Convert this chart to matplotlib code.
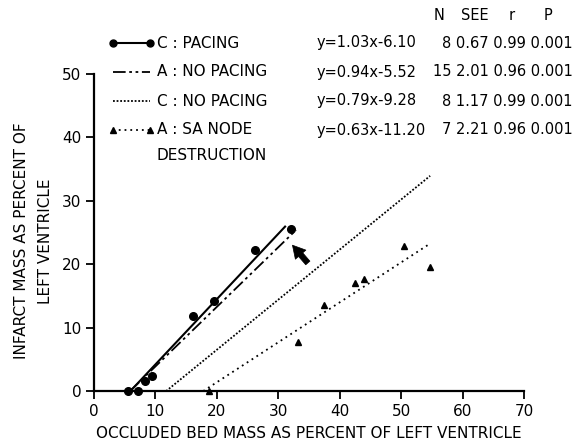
import matplotlib
matplotlib.use("Agg")
import matplotlib.pyplot as plt
from matplotlib.lines import Line2D
import numpy as np

plt.rcParams['font.family'] = ['DejaVu Sans']

# scatter data
pacing_x = [5.6, 7.2, 8.3, 9.4, 16.2, 19.6, 26.2, 32.0]
pacing_y = [0.0, 0.0, 1.6, 2.4, 11.8, 14.2, 22.2, 25.5]
sa_x = [18.8, 33.2, 37.5, 42.5, 43.9, 50.5, 54.6]
sa_y = [0.0, 7.7, 13.6, 17.0, 17.6, 22.8, 19.5]

# regression lines
labels = ["C : PACING", "A : NO PACING", "C : NO PACING", "A : SA NODE\nDESTRUCTION"]
slopes = [1.03, 0.94, 0.79, 0.63]
intercepts = [-6.10, -5.52, -9.28, -11.20]
x_ends = [31.1, 32.9, 54.7, 54.8]
equations = ["y=1.03x-6.10", "y=0.94x-5.52", "y=0.79x-9.28", "y=0.63x-11.20"]
stats = ["8 0.67 0.99 0.001", "15 2.01 0.96 0.001", "8 1.17 0.99 0.001", "7 2.21 0.96 0.001"]
stat_headers = ["N", "SEE", "r", "P"]

styles = [
    dict(ls='-', lw=1.5),
    dict(ls=(0, (7, 2, 1.5, 2, 1.5, 2)), lw=1.3),
    dict(ls=(0, (1, 1)), lw=1.3),
    dict(ls=(0, (1, 2.2)), lw=1.3),
]

fig = plt.figure(figsize=(5.87, 4.48), dpi=100)
ax = fig.add_axes([0.160, 0.127, 0.733, 0.708])

for m, b, xe, st in zip(slopes, intercepts, x_ends, styles):
    x0 = -b / m
    xs = np.array([x0, xe])
    ax.plot(xs, m * xs + b, color='black', **st)

ax.plot(pacing_x, pacing_y, 'o', color='black', ms=5.5, clip_on=False)
ax.plot(sa_x, sa_y, '^', color='black', ms=4.5, clip_on=False)

# filled arrow pointing at the last pacing point
ax.annotate('', xy=(32.3, 23.0), xytext=(34.8, 20.2),
            arrowprops=dict(arrowstyle='simple,head_length=0.9,head_width=1.0,tail_width=0.4',
                            fc='black', ec='black', lw=0.5, shrinkA=0, shrinkB=0,
                            mutation_scale=10))

ax.set_xlim(0, 70)
ax.set_ylim(0, 50)
ax.set_xticks(range(0, 71, 10))
ax.set_yticks(range(0, 51, 10))
ax.spines['top'].set_visible(False)
ax.spines['right'].set_visible(False)
for s in ('left', 'bottom'):
    ax.spines[s].set_linewidth(1.6)
ax.tick_params(direction='out', length=6, width=1.3, labelsize=11, pad=3)
ax.set_xlabel("OCCLUDED BED MASS AS PERCENT OF LEFT VENTRICLE", fontsize=11, labelpad=5)

W, H = 587, 448
fig.text(22 / W, 1 - 241 / H, "INFARCT MASS AS PERCENT OF", rotation=90,
         fontsize=11, ha='center', va='center')
fig.text(45 / W, 1 - 241 / H, "LEFT VENTRICLE", rotation=90,
         fontsize=11, ha='center', va='center')

# legend drawn by hand in figure pixels
rows = [43, 72, 101, 130]
markers = ['o', None, None, '^']
msizes = [5, 0, 0, 4.5]
for yp, lab, eq, stt, st, mk, ms in zip(rows, labels, equations, stats, styles, markers, msizes):
    yf = 1 - yp / H
    fig.add_artist(Line2D([113 / W, 150 / W], [yf, yf], color='black',
                          marker=mk, ms=ms, transform=fig.transFigure, **st))
    if '\n' in lab:
        first, second = lab.split('\n')
        fig.text(157 / W, yf, first, fontsize=11, va='center', ha='left')
        fig.text(157 / W, 1 - (yp + 25) / H, second, fontsize=11, va='center', ha='left')
    else:
        fig.text(157 / W, yf, lab, fontsize=11, va='center', ha='left')
    fig.text(317 / W, yf, eq, fontsize=10.5, va='center', ha='left')
    fig.text(573 / W, yf, stt, fontsize=10.5, va='center', ha='right')

for hx, ht in zip([439, 475, 512, 548], stat_headers):
    fig.text(hx / W, 1 - 15 / H, ht, fontsize=10.5, va='center', ha='center')

fig.savefig("out.png", dpi=100)
